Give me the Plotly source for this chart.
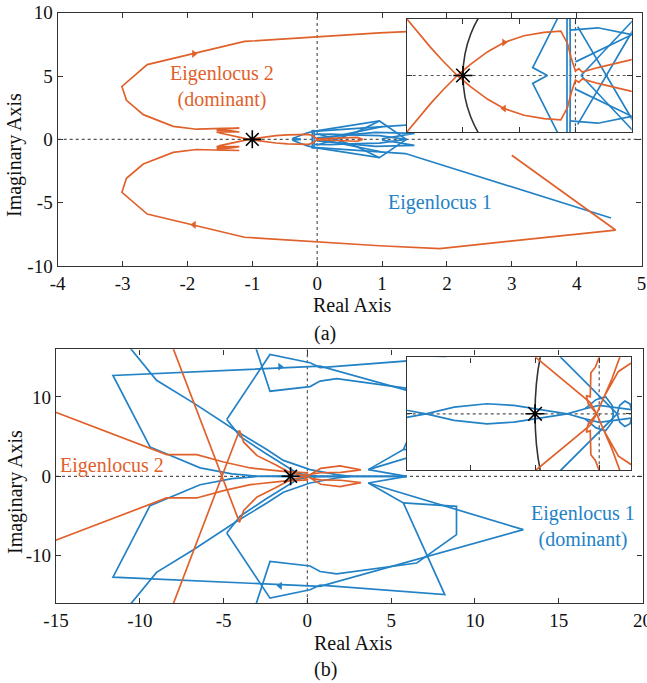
import plotly.graph_objects as go

W, H = 647, 683
ORANGE = '#E0612B'
BLUE = '#2382C6'
FONT = 'Liberation Serif'

# ---------------- data (upper half of each conjugate-symmetric locus) ----------------
# (a) main plot
A_OR_OUTER = [(-1.05, 0.0), (-1.18, 0.13), (-1.29, 0.25), (-1.40, 0.38), (-1.50, 0.50), (-1.55, 0.58),
              (-1.38, 0.60), (-1.20, 0.58), (-1.35, 0.70), (-1.55, 0.72), (-1.38, 0.84), (-1.20, 0.88),
              (-1.45, 0.86), (-1.86, 0.80), (-2.22, 1.03), (-2.68, 1.95), (-2.94, 3.08), (-3.01, 4.18),
              (-2.62, 5.90), (-1.12, 7.73), (0.96, 8.40), (1.89, 8.63), (4.60, 7.16), (3.00, 1.26)]
A_OR_LOBE = [(-1.05, 0.0), (-0.93, 0.10), (-0.78, 0.21), (-0.635, 0.29), (-0.457, 0.35), (-0.28, 0.38),
             (-0.13, 0.39), (-0.07, 0.28), (-0.04, 0.16), (-0.01, 0.06), (0.0, 0.04), (0.03, 0.06),
             (0.06, 0.03), (0.2, 0.07), (0.5, 0.14), (0.62, 0.15), (0.70, 0.0)]
A_OR_ARROWS = [(-1.9, 6.75), (-0.635, 0.29)]

A_BL_OUTER = [(-0.25, 0.0), (-0.38, 0.07), (-0.16, 0.5), (-0.06, 0.63), (0.96, 1.45), (1.375, 0.0)]
A_BL_LONG = [(-0.06, 0.63), (1.36, 1.12), (4.53, 6.21)]
A_BL_VERT1 = [(-0.075, 0.75), (-0.075, 0.0)]
A_BL_VERT2 = [(-0.05, 0.75), (-0.045, 0.0)]
A_BL_ARC = [(-0.05, 0.40), (0.2, 0.42), (0.5, 0.36), (0.96, 0.30), (1.375, 0.0)]
A_BL_X1 = [(0.02, 0.43), (0.6, -0.55), (0.96, -1.45)]
A_BL_X2 = [(0.05, 0.0), (0.55, 0.5), (1.0, 1.0)]
A_BL_X3 = [(0.0, 0.12), (0.9, 0.55), (1.5, 0.47), (1.0, 0.05)]

# (b) main plot
B_BL_HORN = [(-10.9, 17.0), (-9.0, 12.1), (-6.8, 9.25), (-4.21, 5.67), (-2.42, 3.37), (-1.43, 2.0),
             (0.16, 0.84), (1.75, 0.21), (2.55, 0.0)]
B_BL_QUAD_A = [(-3.2, 17.0), (-2.23, 10.72), (0.16, 11.3), (0.76, 12.0), (1.75, 12.3), (6.53, 10.92),
               (8.9, 7.35), (8.9, 3.78), (5.73, 3.36), (3.64, 0.84), (5.93, 0.0)]
B_BL_QUAD_B = [(-4.81, 7.15), (-2.23, 15.35), (0.16, 14.3), (0.76, 13.7), (8.2, 14.9), (5.73, 3.36)]
B_BL_VERTEX = [(-4.81, 7.15), (-4.0, 5.0), (-2.5, 2.9), (-1.4, 1.5), (-0.6, 0.4), (0.28, 0.0)]
B_BL_ARROWLINE = [(12.89, 6.72), (0.76, 13.87), (-11.6, 12.7), (-9.39, 3.7), (-6.4, 1.06), (-4.5, 0.3),
                  (-3.0, 0.025), (-2.7, 0.0), (-2.26, -0.047), (-1.75, -0.071), (-1.33, -0.059),
                  (-1.02, -0.035), (-0.66, -0.012), (-0.5, 0.0), (-0.22, 0.036), (0.0, 0.06),
                  (0.5, 0.03), (2.55, 0.0), (5.93, 0.0)]
B_BL_RIGHT = [(3.64, 0.84), (12.89, 6.72)]
B_BL_LOOP1 = [(-0.22, 0.036), (-0.05, 0.1), (0.1, 0.12), (0.2, 0.06), (0.22, 0.0)]
B_BL_LOOP2 = [(0.28, 0.0), (0.32, 0.06), (0.4, 0.09), (0.48, 0.07), (0.52, 0.0)]
B_BL_ARROWS = [(-1.63, 13.8)]

B_OR_LINE = [(-8.17, 17.0), (-4.05, -5.8), (-3.8, -4.3), (-3.0, -2.6), (-1.9, -1.45), (-0.99, -0.4),
             (-0.14, -0.08), (-0.04, 0.0)]
B_OR_LEFT = [(-15.5, 8.45), (-9.39, 3.58), (-8.4, 2.73), (-6.6, 2.73), (-5.0, 1.8), (-3.4, 1.05),
             (-1.43, 0.62), (0.04, 0.45), (-0.06, 0.33), (-0.13, 0.29), (-0.14, 0.12), (-0.2, 0.13),
             (-0.17, 0.07), (-0.04, 0.0)]
B_OR_LOBE = [(-0.04, 0.0), (0.2, 0.25), (0.8, 1.0), (1.95, 1.3), (3.2, 0.8), (2.0, 0.5), (0.8, 0.45),
             (0.3, 0.3), (0.05, 0.1)]

# axes ranges / ticks
A_XRANGE, A_YRANGE = [-4, 5], [-10, 10]
A_XTICKS, A_YTICKS = [-4, -3, -2, -1, 0, 1, 2, 3, 4, 5], [-10, -5, 0, 5, 10]
AI_XRANGE, AI_YRANGE = [-1.5, 0.5], [-0.5, 0.5]
B_XRANGE, B_YRANGE = [-15, 20], [-16, 16]
B_XTICKS, B_YTICKS = [-15, -10, -5, 0, 5, 10, 15, 20], [-10, 0, 10]
BI_XRANGE, BI_YRANGE = [-3, 0.5], [-0.4, 0.4]


def conj(*paths):
    xs, ys = [], []
    for p in paths:
        for sgn in (1, -1):
            xs += [q[0] for q in p] + [None]
            ys += [sgn * q[1] for q in p] + [None]
    return xs, ys


def xdom(a, b):
    return [a / W, b / W]


def ydom(top, bot):
    return [1 - bot / H, 1 - top / H]


def labels(vals):
    return [str(v) for v in vals]


fig = go.Figure()


def add_axes_content(xa, ya, xr, yr, orange_paths, blue_paths, arrows_or, arrows_bl, star_size, lw):
    fig.add_trace(go.Scatter(x=[xr[0], xr[1]], y=[0, 0], mode='lines', xaxis=xa, yaxis=ya,
                             line=dict(color='#555', width=1.2, dash='dot'), hoverinfo='skip'))
    fig.add_trace(go.Scatter(x=[0, 0], y=[yr[0], yr[1]], mode='lines', xaxis=xa, yaxis=ya,
                             line=dict(color='#555', width=1.2, dash='dot'), hoverinfo='skip'))
    bx, by = conj(*blue_paths)
    fig.add_trace(go.Scatter(x=bx, y=by, mode='lines', xaxis=xa, yaxis=ya,
                             line=dict(color=BLUE, width=lw)))
    ox, oy = conj(*orange_paths)
    fig.add_trace(go.Scatter(x=ox, y=oy, mode='lines', xaxis=xa, yaxis=ya,
                             line=dict(color=ORANGE, width=lw)))
    for arrows, col in ((arrows_or, ORANGE), (arrows_bl, BLUE)):
        for (x, y) in arrows:
            fig.add_trace(go.Scatter(x=[x, x], y=[y, -y], mode='markers', xaxis=xa, yaxis=ya,
                                     marker=dict(symbol=['triangle-right', 'triangle-left'], size=7,
                                                 color=col, line=dict(width=0))))
    fig.add_trace(go.Scatter(x=[-1], y=[0], mode='markers', xaxis=xa, yaxis=ya,
                             marker=dict(symbol='asterisk-open', size=star_size, color='black',
                                         line=dict(color='black', width=1.6))))


A_OR = [A_OR_OUTER, A_OR_LOBE]
A_BL = [A_BL_OUTER, A_BL_LONG, A_BL_VERT1, A_BL_VERT2, A_BL_ARC, A_BL_X1, A_BL_X2, A_BL_X3]
B_OR = [B_OR_LINE, B_OR_LEFT, B_OR_LOBE]
B_BL = [B_BL_HORN, B_BL_QUAD_A, B_BL_QUAD_B, B_BL_VERTEX, B_BL_ARROWLINE, B_BL_RIGHT, B_BL_LOOP1, B_BL_LOOP2]

add_axes_content('x', 'y', A_XRANGE, A_YRANGE, A_OR, A_BL, [A_OR_ARROWS[0]], [], 15, 1.7)
add_axes_content('x2', 'y2', AI_XRANGE, AI_YRANGE, A_OR, A_BL, [A_OR_ARROWS[1]], [], 16, 1.7)
add_axes_content('x3', 'y3', B_XRANGE, B_YRANGE, B_OR, B_BL, [], B_BL_ARROWS, 15, 1.7)
add_axes_content('x4', 'y4', BI_XRANGE, BI_YRANGE, B_OR, B_BL, [], [], 16, 1.7)

axis_common = dict(showgrid=False, zeroline=False, showline=True, linecolor='#333', linewidth=1.4,
                   mirror='ticks', ticks='inside', ticklen=5, tickwidth=1.2, tickcolor='#333',
                   automargin=False, ticklabeloverflow='allow',
                   tickfont=dict(family=FONT, size=19, color='#111'))
inset_common = {**axis_common, 'showticklabels': False}

layout = dict(
    template='none',
    width=W, height=H, autosize=False, showlegend=False,
    margin=dict(l=0, r=0, t=0, b=0, pad=0),
    paper_bgcolor='white', plot_bgcolor='white',
    font=dict(family=FONT, color='#111'),
    xaxis=dict(domain=xdom(57.7, 641.5), range=A_XRANGE, tickvals=A_XTICKS, ticktext=labels(A_XTICKS),
               anchor='y', **axis_common),
    yaxis=dict(domain=ydom(12.7, 266), range=A_YRANGE, tickvals=A_YTICKS, ticktext=labels(A_YTICKS),
               anchor='x', **axis_common),
    xaxis2=dict(domain=xdom(406.7, 631.7), range=AI_XRANGE, tickvals=[-1.5, -1, -0.5, 0, 0.5],
                anchor='y2', **inset_common),
    yaxis2=dict(domain=ydom(18.7, 132.3), range=AI_YRANGE, tickvals=[-0.5, 0, 0.5],
                anchor='x2', **inset_common),
    xaxis3=dict(domain=xdom(56, 642.5), range=B_XRANGE, tickvals=B_XTICKS, ticktext=labels(B_XTICKS),
                anchor='y3', **axis_common),
    yaxis3=dict(domain=ydom(349.3, 603.3), range=B_YRANGE, tickvals=B_YTICKS, ticktext=labels(B_YTICKS),
                anchor='x3', **axis_common),
    xaxis4=dict(domain=xdom(406.7, 631.3), range=BI_XRANGE, tickvals=[-3, -2, -1, 0],
                anchor='y4', **inset_common),
    yaxis4=dict(domain=ydom(357.3, 470.3), range=BI_YRANGE, tickvals=[-0.4, 0, 0.4],
                anchor='x4', **inset_common),
)
fig.update_layout(**layout)

for xr, yr in (('x2', 'y2'), ('x4', 'y4')):
    fig.add_shape(type='circle', xref=xr, yref=yr, x0=-1, x1=1, y0=-1, y1=1,
                  line=dict(color='#333', width=1.6), layer='below')


def ann(text, px, py, color='#111', size=20, angle=0):
    fig.add_annotation(text=text, x=px / W, y=1 - py / H, xref='paper', yref='paper',
                       showarrow=False, xanchor='center', yanchor='middle', textangle=angle,
                       font=dict(family=FONT, size=size, color=color))


ann('Eigenlocus 2<br>(dominant)', 222, 87, ORANGE)
ann('Eigenlocus 1', 440, 202, BLUE)
ann('Eigenlocus 2', 112, 465, ORANGE)
ann('Eigenlocus 1<br>(dominant)', 583, 526, BLUE)
ann('Real Axis', 352, 305)
ann('Real Axis', 353, 643)
ann('Imaginary Axis', 15, 155, angle=-90)
ann('Imaginary Axis', 15, 492, angle=-90)
ann('(a)', 325, 333)
ann('(b)', 325, 669)

fig.write_html('out.html', config={'displayModeBar': False},
               post_script="document.body.style.margin='0';")
